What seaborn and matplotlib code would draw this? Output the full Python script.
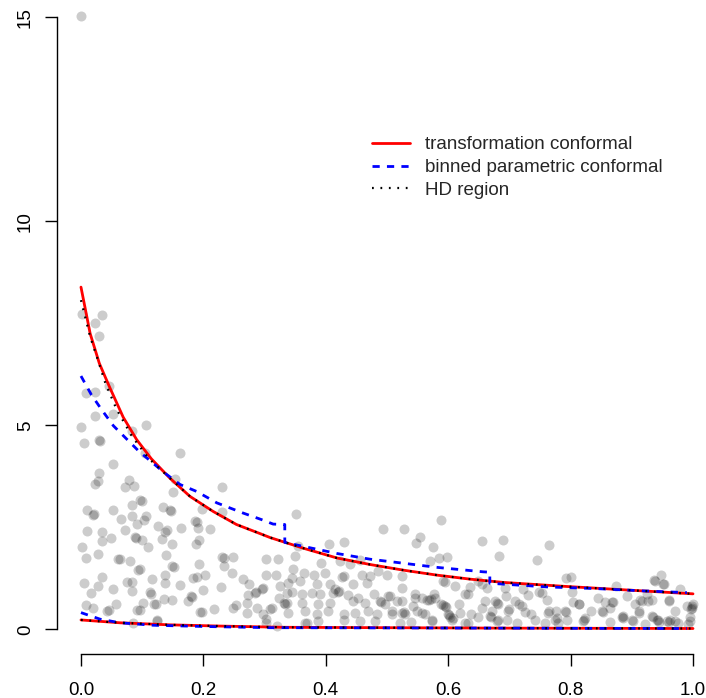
import matplotlib
matplotlib.use("Agg")
import matplotlib.pyplot as plt
from matplotlib.lines import Line2D
import pandas as pd
import seaborn as sns

obs_x = [
    0.000, 0.001, 0.034, 0.023, 0.029, 0.046, 0.008, 0.023, 0.023, 0.052, 0.000, 0.107, 0.084, 0.005, 0.029, 0.031, 0.105, 0.161,
    0.053, 0.030, 0.023, 0.027, 0.079, 0.072, 0.087, 0.154, 0.151, 0.231,
    0.010, 0.020, 0.022, 0.052, 0.066, 0.083, 0.096, 0.099, 0.083, 0.107, 0.103, 0.134, 0.145, 0.147, 0.186, 0.189, 0.197, 0.230,
    0.010, 0.035, 0.072, 0.092, 0.126, 0.140, 0.137, 0.163, 0.192, 0.210,
    0.002, 0.035, 0.049, 0.088, 0.090, 0.099, 0.110, 0.133, 0.148, 0.188, 0.193,
    0.008, 0.028, 0.061, 0.063, 0.080, 0.139, 0.152, 0.149, 0.193, 0.231, 0.233, 0.249, 0.234, 0.303, 0.322,
    0.035, 0.005, 0.027, 0.016, 0.053, 0.075, 0.084, 0.096, 0.093, 0.084, 0.116, 0.113, 0.137, 0.137, 0.162, 0.183, 0.189, 0.203,
    0.181, 0.199, 0.228, 0.246, 0.265, 0.275, 0.273, 0.284, 0.286, 0.295, 0.297, 0.303, 0.319, 0.325,
    0.020, 0.043, 0.045, 0.057, 0.091, 0.097, 0.101, 0.114, 0.120, 0.122, 0.125, 0.136, 0.148, 0.175, 0.179, 0.194, 0.198, 0.217,
    0.253, 0.271, 0.271, 0.287, 0.312, 0.309, 0.303, 0.324, 0.331, 0.333, 0.297, 0.320, 0.085, 0.008, 0.124, 0.249, 0.303, 0.369,
    0.352, 0.589, 0.494, 0.527, 0.554, 0.547, 0.575, 0.656, 0.406, 0.430, 0.355,
    0.350, 0.392, 0.423, 0.456, 0.347, 0.365, 0.399, 0.440, 0.570, 0.585, 0.598,
    0.524, 0.500, 0.472, 0.486, 0.459, 0.427, 0.430, 0.380, 0.339, 0.358, 0.385, 0.407, 0.445, 0.467, 0.524, 0.545, 0.558, 0.569,
    0.572, 0.576, 0.592, 0.611, 0.627, 0.636, 0.649, 0.663, 0.655,
    0.345, 0.361, 0.377, 0.391, 0.412, 0.420, 0.422, 0.437, 0.453, 0.478, 0.502,
    0.336, 0.361, 0.388, 0.407, 0.445, 0.464, 0.489, 0.491, 0.497, 0.516, 0.543, 0.589, 0.591, 0.595, 0.597, 0.617, 0.660,
    0.339, 0.366, 0.385, 0.404, 0.429, 0.448, 0.469, 0.483, 0.508, 0.524, 0.527, 0.549, 0.562, 0.600, 0.602, 0.606, 0.608, 0.619,
    0.649, 0.671,
    0.366, 0.388, 0.430, 0.456, 0.480, 0.521, 0.540, 0.573, 0.633, 0.344, 0.336, 0.415,
    0.690, 0.765, 0.683, 0.745, 0.792, 0.800, 0.937, 0.948, 0.953, 0.874, 0.979,
    0.694, 0.723, 0.731, 0.749, 0.761, 0.803, 0.804, 0.813, 0.845, 0.856, 0.868, 0.870, 0.892, 0.913, 0.927, 0.924, 0.960, 0.990,
    1.000, 0.679, 0.681, 0.709, 0.715, 0.698, 0.700, 0.725, 0.736, 0.763, 0.765, 0.776, 0.791, 0.793, 0.794, 0.775, 0.777, 0.758,
    0.679, 0.681, 0.712, 0.742, 0.822, 0.824, 0.834, 0.851, 0.853, 0.864, 0.884, 0.886, 0.900, 0.902, 0.911, 0.933, 0.935, 0.943,
    0.945, 0.960, 0.962, 0.971, 0.995, 0.998, 0.996, 0.992, 0.971, 0.693, 0.905,
    0.594, 0.505, 0.524, 0.546, 0.565, 0.578, 0.633, 0.655, 0.676, 0.720, 0.753, 0.508, 0.529, 0.557, 0.603, 0.638, 0.668, 0.670,
    0.696, 0.627, 0.573,
    0.938, 0.951, 0.916, 0.933, 0.960, 0.998, 0.813, 0.864, 0.886, 0.911, 0.941, 0.957, 0.995, 0.780, 0.821, 0.922, 0.976,
]
obs_y = [
    15.03, 7.74, 7.70, 7.51, 7.20, 5.97, 5.80, 5.83, 5.24, 5.27, 4.97, 5.02, 4.87, 4.57, 4.65, 4.62, 4.32, 4.32,
    4.06, 3.83, 3.57, 3.63, 3.67, 3.50, 3.52, 3.68, 3.36, 3.48,
    2.92, 2.81, 2.83, 2.92, 2.71, 3.06, 3.16, 3.15, 2.79, 2.77, 2.67, 3.00, 2.92, 2.90, 2.65, 2.62, 2.95, 2.87,
    2.40, 2.38, 2.43, 2.57, 2.53, 2.44, 2.38, 2.49, 2.49, 2.46,
    2.02, 2.16, 2.24, 2.27, 2.25, 2.18, 2.02, 2.22, 2.08, 2.08, 2.18,
    1.74, 1.85, 1.73, 1.72, 1.67, 1.83, 1.53, 1.55, 1.61, 1.78, 1.76, 1.77, 1.56, 1.73, 1.73,
    1.29, 1.14, 1.06, 0.90, 1.00, 1.16, 1.16, 1.48, 1.45, 0.94, 1.24, 0.91, 1.34, 1.14, 1.08, 1.26, 1.28, 1.32,
    0.80, 0.96, 1.04, 1.39, 1.24, 1.10, 0.83, 0.90, 0.92, 1.00, 1.02, 1.34, 1.34, 1.06,
    0.53, 0.45, 0.47, 0.61, 0.47, 0.47, 0.65, 0.86, 0.61, 0.63, 0.23, 0.75, 0.73, 0.69, 0.81, 0.42, 0.43, 0.51,
    0.59, 0.64, 0.41, 0.53, 0.53, 0.49, 0.26, 0.77, 0.65, 0.62, 0.37, 0.08, 0.15, 0.59, 0.20, 0.53, 0.16, 0.16,
    2.83, 2.69, 2.47, 2.47, 2.27, 2.12, 2.01, 2.16, 2.10, 2.14, 2.04,
    1.79, 1.63, 1.67, 1.71, 1.47, 1.39, 1.39, 1.59, 1.67, 1.75, 1.77,
    1.30, 1.34, 1.30, 1.44, 1.33, 1.28, 1.30, 1.34, 1.14, 1.18, 1.10, 1.10, 1.10, 1.14, 1.02, 0.87, 0.77, 0.73,
    0.75, 0.87, 1.18, 1.06, 0.87, 1.03, 1.18, 1.02, 1.12,
    0.92, 0.86, 0.90, 0.86, 0.90, 0.92, 0.95, 0.84, 0.77, 0.86, 0.81,
    0.65, 0.65, 0.61, 0.65, 0.69, 0.65, 0.69, 0.66, 0.61, 0.69, 0.57, 0.63, 0.60, 0.57, 0.55, 0.63, 0.69,
    0.41, 0.45, 0.37, 0.45, 0.37, 0.41, 0.46, 0.37, 0.45, 0.41, 0.43, 0.46, 0.37, 0.37, 0.34, 0.24, 0.27, 0.41,
    0.30, 0.45,
    0.16, 0.20, 0.24, 0.20, 0.20, 0.16, 0.19, 0.20, 0.16, 1.26, 0.90, 0.98,
    2.18, 2.06, 1.79, 1.69, 1.26, 1.28, 1.22, 1.32, 1.10, 1.06, 0.98,
    0.81, 0.98, 0.84, 0.92, 0.73, 0.92, 0.68, 0.63, 0.76, 0.68, 0.68, 0.66, 0.81, 0.73, 0.69, 0.86, 0.69, 0.57,
    0.61, 0.65, 0.62, 0.69, 0.61, 0.46, 0.49, 0.43, 0.38, 0.41, 0.44, 0.46, 0.45, 0.42, 0.24, 0.24, 0.27, 0.16,
    0.20, 0.23, 0.16, 0.24, 0.24, 0.27, 0.45, 0.46, 0.43, 0.19, 0.30, 0.27, 0.24, 0.21, 0.46, 0.33, 0.30, 0.22,
    0.19, 0.19, 0.22, 0.20, 0.29, 0.53, 0.50, 0.12, 0.45, 1.02, 0.61,
    1.16, 0.81, 0.69, 0.77, 0.72, 0.77, 0.86, 0.53, 0.69, 0.57, 0.90, 0.37, 0.37, 0.41, 0.29, 0.37, 0.33, 0.30,
    0.24, 0.16, 0.24,
    1.18, 1.12, 0.69, 0.73, 0.72, 0.57, 0.61, 0.53, 0.33, 0.41, 0.24, 0.20, 0.20, 0.16, 0.20, 0.12, 0.16,
]

# transformation conformal band
trans_upper_x = [0.0, 0.015, 0.03, 0.047, 0.069, 0.091, 0.115, 0.145, 0.178, 0.216, 0.254, 0.292, 0.309, 0.363,
                 0.418, 0.472, 0.527, 0.581, 0.636, 0.690, 0.783, 0.84, 0.92, 1.0]
trans_upper_y = [8.39, 7.25, 6.52, 5.93, 5.20, 4.65, 4.18, 3.71, 3.26, 2.89, 2.57, 2.35, 2.25, 1.99,
                 1.75, 1.59, 1.45, 1.33, 1.23, 1.15, 1.06, 1.01, 0.94, 0.87]
trans_lower_x = [0.0, 0.064, 0.145, 0.227, 0.331, 0.5, 0.676, 1.0]
trans_lower_y = [0.23, 0.16, 0.11, 0.08, 0.05, 0.04, 0.03, 0.02]

# binned parametric conformal band (three bins)
binned_upper_x = [0.0, 0.017, 0.034, 0.053, 0.075, 0.095, 0.137, 0.162, 0.189, 0.222, 0.265, 0.295, 0.314, 0.333,
                  0.333, 0.352, 0.418, 0.472, 0.527, 0.581, 0.657, 0.668,
                  0.668, 0.698, 0.761, 0.840, 0.922, 0.99]
binned_upper_y = [6.21, 5.75, 5.38, 4.99, 4.66, 4.36, 3.83, 3.55, 3.38, 3.10, 2.85, 2.69, 2.58, 2.57,
                  2.13, 2.07, 1.86, 1.72, 1.62, 1.52, 1.41, 1.40,
                  1.13, 1.10, 1.04, 1.00, 0.94, 0.90]
binned_lower_x = [0.0, 0.031, 0.064, 0.118, 0.2, 0.31, 0.333, 0.5, 0.668, 0.8, 0.99]
binned_lower_y = [0.41, 0.25, 0.16, 0.10, 0.07, 0.04, 0.04, 0.035, 0.03, 0.025, 0.02]

# HD region
hd_upper_x = [0.0, 0.015, 0.026, 0.040, 0.058, 0.083, 0.110, 0.145, 0.178, 0.216, 0.254, 0.292, 0.309, 0.363,
              0.418, 0.472, 0.527, 0.581, 0.636, 0.690, 0.783, 0.84, 0.92, 1.0]
hd_upper_y = [8.07, 7.17, 6.68, 6.03, 5.40, 4.74, 4.20, 3.71, 3.26, 2.89, 2.57, 2.35, 2.25, 1.99,
              1.75, 1.59, 1.45, 1.33, 1.23, 1.15, 1.06, 1.01, 0.94, 0.87]
hd_lower_x = trans_lower_x
hd_lower_y = trans_lower_y

legend_labels = ["transformation conformal", "binned parametric conformal", "HD region"]

sns.set_style("white")
plt.rcParams["font.family"] = ["Liberation Sans", "DejaVu Sans"]

fig = plt.figure(figsize=(7.06, 6.98), dpi=100)
ax = fig.add_axes([56.5 / 706, 1 - 653.8 / 698, 661 / 706, 662 / 698])

df = pd.DataFrame({"x": obs_x, "y": obs_y})
sns.scatterplot(data=df, x="x", y="y", ax=ax, color="black", alpha=0.2,
                s=52, linewidth=0, legend=False)

red_kw = dict(color="red", lw=2.0)
blue_kw = dict(color="blue", lw=2.0, linestyle=(0, (2.6, 2.6)))
dot_kw = dict(color="black", lw=1.6, linestyle=(0, (0.8, 3.0)))

sns.lineplot(x=trans_upper_x, y=trans_upper_y, sort=False, estimator=None, ax=ax, **red_kw)
sns.lineplot(x=trans_lower_x, y=trans_lower_y, sort=False, estimator=None, ax=ax, **red_kw)
sns.lineplot(x=binned_upper_x, y=binned_upper_y, sort=False, estimator=None, ax=ax, **blue_kw)
sns.lineplot(x=binned_lower_x, y=binned_lower_y, sort=False, estimator=None, ax=ax, **blue_kw)
sns.lineplot(x=hd_upper_x, y=hd_upper_y, sort=False, estimator=None, ax=ax, **dot_kw)
sns.lineplot(x=hd_lower_x, y=hd_lower_y, sort=False, estimator=None, ax=ax, **dot_kw)

ax.set_xlim(-0.04, 1.04)
ax.set_ylim(-0.6, 15.63)
ax.set_xlabel("")
ax.set_ylabel("")
ax.set_xticks([0.0, 0.2, 0.4, 0.6, 0.8, 1.0])
ax.set_xticklabels(["0.0", "0.2", "0.4", "0.6", "0.8", "1.0"])
ax.set_yticks([0, 5, 10, 15])
ax.set_yticklabels(["0", "5", "10", "15"], rotation=90, va="center")

for side in ["top", "right"]:
    ax.spines[side].set_visible(False)
ax.spines["left"].set_bounds(0, 15)
ax.spines["bottom"].set_bounds(0, 1)
for side in ["left", "bottom"]:
    ax.spines[side].set_color("black")
    ax.spines[side].set_linewidth(1.0)
ax.tick_params(axis="both", direction="out", length=8.3, width=1.0, color="black",
               labelsize=13.5, labelcolor="black")
ax.tick_params(axis="x", pad=12)
ax.tick_params(axis="y", pad=8)
ax.tick_params(left=True, bottom=True)

handles = [Line2D([], [], **red_kw), Line2D([], [], **blue_kw), Line2D([], [], **dot_kw)]
ax.legend(handles, legend_labels, loc="upper left",
          bbox_to_anchor=(372 / 706, 1 - 136 / 698), bbox_transform=fig.transFigure,
          frameon=False, fontsize=13.5, borderpad=0, borderaxespad=0,
          handlelength=2.03, handletextpad=0.8, labelspacing=0.31)

fig.savefig("out.png", dpi=100)
